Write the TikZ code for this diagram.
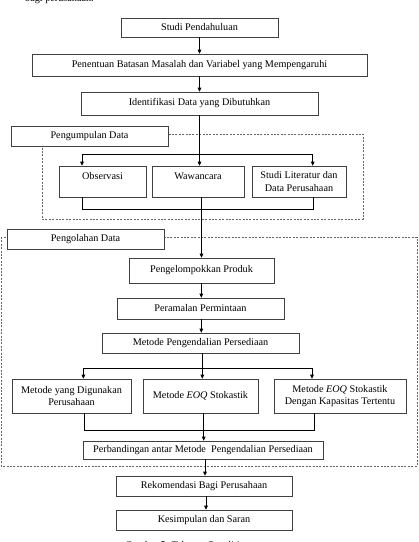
\documentclass[tikz,border=0pt]{standalone}
\usepackage{fontspec}
\setmainfont{Liberation Serif}
\usetikzlibrary{arrows.meta,calc}
\begin{document}
\begin{tikzpicture}[x=1pt,y=-1pt,
  font=\fontsize{10.2}{12.4}\selectfont,
  box/.style={draw=black!75, line width=0.6pt, fill=white, inner sep=0pt, align=center},
  conn/.style={line width=0.6pt, draw=black},
  arr/.style={conn, -{Triangle[length=4pt,width=3.6pt]}},
  grp/.style={draw=black!60, line width=0.55pt, dash pattern=on 2pt off 1.4pt}]
\useasboundingbox (0,0) rectangle (419,542);
\clip (0,0) rectangle (419,542);

% cut-off text above and below
\node[anchor=base west, inner sep=0pt] (prev) at (25,1.5) {bagi perusahaan.};
\node[anchor=base west, inner sep=0pt] (cap) at (125,548) {Gambar 5. Tahapan Penelitian};

% dashed groups
\draw[grp] (42,134) rectangle (363,219);
\draw[grp] (1,237) rectangle (417,466);

% main boxes
\node[box, minimum width=157, minimum height=19] (s1) at (199.5,27.5) {Studi Pendahuluan};
\node[box, minimum width=335, minimum height=22] (s2) at (199.5,65) {Penentuan Batasan Masalah dan Variabel yang Mempengaruhi};
\node[box, minimum width=237, minimum height=23] (s3) at (199.5,103.5) {Identifikasi Data yang Dibutuhkan};

\node[box, minimum width=157, minimum height=20] (lab1) at (89.5,136) {Pengumpulan Data};

\node[box, minimum width=87, minimum height=31] (o1) at (102.5,181.5) {};
\node[inner sep=0pt] (o1t) at (102.5,176) {Observasi};
\node[box, minimum width=92, minimum height=31] (o2) at (198,181.5) {};
\node[inner sep=0pt] (o2t) at (198,176) {Wawancara};
\node[box, minimum width=94, minimum height=31] (o3) at (299,181.5) {Studi Literatur dan\\Data Perusahaan};

\node[box, minimum width=157, minimum height=20] (lab2) at (85.5,239) {Pengolahan Data};

\node[box, minimum width=145, minimum height=25] (p1) at (201.5,270.5) {Pengelompokkan Produk};
\node[box, minimum width=167, minimum height=21] (p2) at (200.5,308.5) {Peramalan Permintaan};
\node[box, minimum width=197, minimum height=20] (p3) at (200.5,343) {Metode Pengendalian Persediaan};

\node[box, minimum width=119, minimum height=34] (m1) at (71.5,396) {Metode yang Digunakan\\Perusahaan};
\node[box, minimum width=115, minimum height=34] (m2) at (200.5,396) {Metode \textit{EOQ} Stokastik};
\node[box, minimum width=132, minimum height=34] (m3) at (340,396) {Metode \textit{EOQ} Stokastik\\Dengan Kapasitas Tertentu};

\node[box, minimum width=240, minimum height=18] (q1) at (203,450) {Perbandingan antar Metode \ Pengendalian Persediaan};
\node[box, minimum width=176, minimum height=20] (r1) at (204,486) {Rekomendasi Bagi Perusahaan};
\node[box, minimum width=176, minimum height=20] (k1) at (204,520) {Kesimpulan dan Saran};

% connectors, top part
\draw[arr] (s1.south) -- (s2.north);
\draw[arr] (s2.south) -- (s3.north);
\draw[arr] (s3.south) -- (s3.south |- o2.north);
\coordinate (b1) at ($(s3.south)+(0,38.5)$);
\coordinate (o1in) at ($(o1.north west)+(23.3,0)$);
\coordinate (o3in) at ($(o3.north west)+(61,0)$);
\draw[arr] (b1) -| (o1in);
\draw[arr] (b1) -| (o3in);

\coordinate (o1out) at ($(o1.south west)+(24,0)$);
\coordinate (o3out) at ($(o3.south west)+(61.3,0)$);
\draw[conn] (o1out) -- ++(0,12) -| (o3out);
\draw[arr] (o2.south -| p1.north) -- (p1.north);

% processing part
\draw[arr] ($(p1.south)+(-0.2,0)$) -- ($(p1.south |- p2.north)+(-0.2,0)$);
\draw[arr] ($(p2.south)+(0.8,0)$) -- ($(p2.south |- p3.north)+(0.8,0)$);
\coordinate (p3o) at ($(p3.south)+(1.8,0)$);
\draw[arr] (p3o) -- (p3o |- m2.north);
\coordinate (b2) at ($(p3o)+(0,14.7)$);
\coordinate (m1in) at ($(m1.north west)+(71.7,0)$);
\coordinate (m3in) at ($(m3.north west)+(38.3,0)$);
\draw[arr] (b2) -| (m1in);
\draw[arr] (b2) -| (m3in);

\coordinate (m1out) at ($(m1.south west)+(72.7,0)$);
\coordinate (m3out) at ($(m3.south west)+(40.7,0)$);
\coordinate (m2out) at ($(m2.south west)+(61,0)$);
\draw[conn] (m1out) -- ++(0,17) -| (m3out);
\draw[arr] (m2out) -- (m2out |- q1.north);

\draw[arr] ($(q1.south)+(2,0)$) -- ($(q1.south |- r1.north)+(2,0)$);
\draw[arr] ($(r1.south)+(2,0)$) -- ($(r1.south |- k1.north)+(2,0)$);
\end{tikzpicture}
\end{document}
